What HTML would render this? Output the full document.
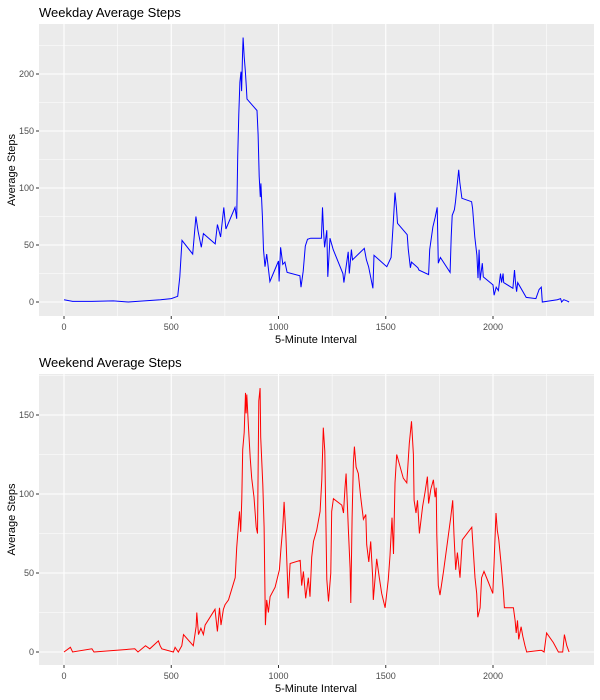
<!DOCTYPE html>
<html><head><meta charset="utf-8"><style>
body{margin:0;background:#fff;font-family:"Liberation Sans",sans-serif}
svg{display:block}
</style></head><body>
<svg id="c" width="600" height="700" xmlns="http://www.w3.org/2000/svg"></svg>
<script>
// Weekday data (interval, average steps) — arrays kept in matching chunks
const wdIntervals=[
0,40,130,230,300,450,500,530,540,550,
600,615,625,640,650,705,715,730,745,755,
797,805,810,815,820,825,828,832,835,840,
845,850,853,900,905,910,915,918,925,930,
937,945,960,1000,1003,1010,1020,1030,1040,1100,
1105,1115,1125,1135,1150,1200,1205,1210,1215,1225,
1230,1240,1255,1300,1305,1325,1330,1340,1345,1400,
1410,1420,1440,1445,1505,1525,1535,1543,1550,1555,
1600,1605,1615,1620,1650,1655,1700,1705,1720,1730,
1740,1745,1755,1800,1805,1810,1820,1825,1840,1845,
1855,1900,1905,1915,1925,1930,1935,1940,1950,1955,
2000,2005,2015,2025,2035,2040,2047,2050,2093,2100,
2105,2110,2115,2155,2200,2215,2225,2230,2300,2315,
2320,2330,2345,2355];
const wdValues=[
2,0.5,0.5,1,0,2,3,5,22,54,
42,75,62,48,60,51,68,57,83,64,
83,73,127,165,193,202,185,216,232,215,
203,189,178,168,147,110,92,104,75,46,
31,42,18,36,18,48,33,35,26,23,
13,27,49,55,56,56,83,63,48,63,
22,56,46,25,17,44,25,46,37,47,
37,31,12,41,31,39,70,96,82,69,
59,46,30,35,30,28,24,46,66,74,
83,34,39,26,57,76,81,88,116,105,
91,88,82,57,41,21,46,19,34,22,
15,6,13,10,25,17,25,17,12,28,
17,9,17,4,3,11,13,0,2,3,
0,2,1,0];
// Weekend data
const weIntervals=[
0,30,40,130,140,330,345,380,400,440,
448,456,510,518,533,549,557,603,616,619,
627,638,650,658,704,715,725,732,743,751,
767,798,805,813,818,824,829,833,840,846,
849,852,860,868,875,886,896,902,908,914,
917,927,933,939,945,953,961,984,1004,1011,
1020,1026,1034,1045,1054,1101,1108,1116,1127,1139,
1147,1155,1163,1178,1194,1202,1209,1216,1225,1233,
1244,1248,1256,1295,1303,1310,1315,1326,1334,1337,
1343,1349,1354,1362,1372,1383,1396,1407,1411,1421,
1430,1439,1442,1450,1458,1470,1481,1497,1512,1520,
1529,1536,1543,1551,1582,1598,1610,1620,1629,1632,
1641,1648,1657,1672,1683,1694,1700,1710,1722,1730,
1735,1738,1745,1753,1769,1784,1803,1812,1818,1826,
1834,1846,1857,1901,1909,1916,1924,1929,1940,1947,
1958,1979,1999,2005,2014,2020,2027,2038,2048,2053,
2095,2103,2108,2114,2120,2131,2139,2149,2157,2219,
2227,2238,2250,2281,2305,2325,2333,2344,2355];
const weValues=[
0,3,0,2,0,2,0,4,2,7,
4,2,0,3,0,4,11,4,16,25,
11,15,11,17,27,13,28,17,27,30,
33,47,66,80,89,76,97,128,139,164,
151,163,142,123,110,98,79,75,159,167,
136,106,79,17,33,25,35,41,52,65,
79,95,75,34,56,58,42,51,34,47,
35,60,70,77,89,109,142,127,46,32,
50,89,97,93,88,104,113,77,53,31,
85,120,130,117,113,98,84,87,68,57,
70,47,33,46,59,47,37,28,46,61,
85,62,107,125,110,107,132,146,125,96,
88,96,75,92,101,111,94,103,109,98,
104,74,42,36,51,66,85,96,74,52,
63,47,71,79,62,47,37,22,28,47,
51,44,37,57,88,77,71,55,39,28,
28,20,12,20,8,16,10,4,0,1,
1,0,12,6,0,0,11,4,0];
const xTicks=[0,500,1000,1500,2000];
const yTicksTop=[0,50,100,150,200];
const yTicksBot=[0,50,100,150];

const NS="http://www.w3.org/2000/svg";
const svg=document.getElementById('c');
function el(t,a,p){const e=document.createElementNS(NS,t);for(const k in a)e.setAttribute(k,a[k]);(p||svg).appendChild(e);return e;}
const xs=v=>64+v*0.2145;

function panel(cfg){
  const g=el('g',{});
  
  
  const ys=v=>cfg.y0-v*cfg.k;
  const bg=el('rect',{x:39,y:cfg.top,width:555,height:cfg.bot-cfg.top,fill:'#ebebeb'},g);
  
  
  [-250,250,750,1250,1750,2250].forEach(v=>{const x=xs(v);if(x>39&&x<594)el('line',{x1:x,x2:x,y1:cfg.top,y2:cfg.bot,stroke:'#fff','stroke-width':0.55},g);});
  cfg.ticks.concat([-50]).forEach(v=>{const y=ys(v+25);if(y>cfg.top&&y<cfg.bot)el('line',{x1:39,x2:594,y1:y,y2:y,stroke:'#fff','stroke-width':0.55},g);});
  xTicks.forEach(v=>{const x=xs(v);el('line',{x1:x,x2:x,y1:cfg.top,y2:cfg.bot,stroke:'#fff','stroke-width':1.1},g);
    el('line',{x1:x,x2:x,y1:cfg.bot,y2:cfg.bot+3,stroke:'#333','stroke-width':1},g);
    const t=el('text',{x:x,y:cfg.bot+14,'text-anchor':'middle','font-size':9,fill:'#4d4d4d'},g);t.textContent=v;
    });
  cfg.ticks.forEach(v=>{const y=ys(v);el('line',{x1:39,x2:594,y1:y,y2:y,stroke:'#fff','stroke-width':1.1},g);
    el('line',{x1:36,x2:39,y1:y,y2:y,stroke:'#333','stroke-width':1},g);
    const t=el('text',{x:34,y:y+3,'text-anchor':'end','font-size':9,fill:'#4d4d4d'},g);t.textContent=v;
    });
  const n=Math.min(cfg.xv.length,cfg.yv.length);
  let d='';
  for(let i=0;i<n;i++)d+=(i?'L':'M')+xs(cfg.xv[i]).toFixed(1)+','+ys(cfg.yv[i]).toFixed(1);
  const p=el('path',{d:d,fill:'none',stroke:cfg.color,'stroke-width':1},g);
  
  
  const tt=el('text',{x:39,y:cfg.top-7,'font-size':13,fill:'#000'},g);tt.textContent=cfg.title;
  
  const xt=el('text',{x:316,y:cfg.bot+27,'text-anchor':'middle','font-size':11,fill:'#000'},g);xt.textContent='5-Minute Interval';
  
  const cy=(cfg.top+cfg.bot)/2;
  const yt=el('text',{x:15,y:cy,'text-anchor':'middle','font-size':11,fill:'#000',transform:`rotate(-90 15 ${cy})`},g);yt.textContent='Average Steps';
  
}
panel({name:'weekday-panel',title:'Weekday Average Steps',top:24,bot:316,y0:302,k:1.14,ticks:yTicksTop,xv:wdIntervals,yv:wdValues,color:'#0000ff'});
panel({name:'weekend-panel',title:'Weekend Average Steps',top:374,bot:665,y0:652,k:1.58,ticks:yTicksBot,xv:weIntervals,yv:weValues,color:'#ff0000'});
</script>
</body></html>
